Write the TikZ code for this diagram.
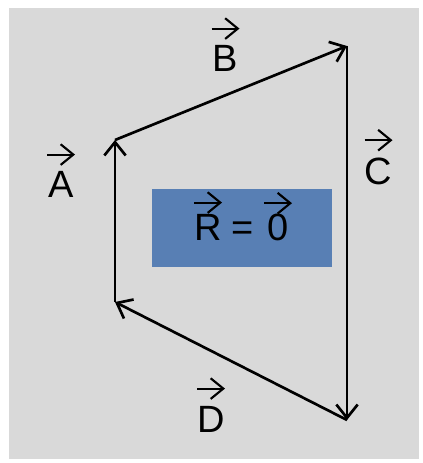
\documentclass[tikz,border=0pt]{standalone}
\usepackage{fontspec}
\setmainfont{Liberation Sans}
\usetikzlibrary{arrows.meta,calc}
\definecolor{bggray}{RGB}{217,217,217}
\definecolor{boxblue}{RGB}{88,127,180}
\tikzset{
  mainarrow/.style={line width=2pt,-{Straight Barb[length=10pt,width=16pt]}},
  vecarr/.style={line width=1.6pt,-{Straight Barb[length=9.5pt,width=15.5pt]}},
  lbl/.style={inner sep=0pt,anchor=base,font=\fontsize{28.5}{34}\selectfont},
  resbox/.style={fill=boxblue,draw=none,minimum width=135pt,minimum height=58.5pt,inner sep=0pt}
}
\newcommand\vecover[2]{\draw[vecarr] ($(#1.north)+(-14,-#2)$) -- ($(#1.north)+(14,-#2)$);}
\begin{document}
\begin{tikzpicture}[x=0.75pt,y=-0.75pt]
\useasboundingbox (0,0) rectangle (422,463);
\fill[white] (0,0) rectangle (422,463);
\fill[bggray] (9,8) rectangle (419,459);
% vertices
\coordinate (p1) at (115,302);
\coordinate (p2) at (115,140);
\coordinate (p3) at (347,46);
\coordinate (p4) at (347,420);
\draw[mainarrow] (p1) -- (p2);
\draw[mainarrow] (p2) -- (p3);
\draw[mainarrow] (p3) -- (p4);
\draw[mainarrow] (p4) -- (p1);
% labels
\node[lbl] (la) at (61,197) {A};
\node[lbl] (lb) at (225.5,72) {B};
\node[lbl] (lc) at (378.5,185) {C};
\node[lbl] (ld) at (211,432) {D};
\vecover{la}{16}
\vecover{lb}{17}
\vecover{lc}{18}
\vecover{ld}{17}
% result box
\node[resbox] (rbox) at (242,228) {};
\node[lbl] (rR) at (208,240) {R};
\node[lbl] (rq) at (243,240) {=};
\node[lbl] (r0) at (278,240) {0};
\vecover{rR}{11}
\vecover{r0}{10}
\end{tikzpicture}
\end{document}
